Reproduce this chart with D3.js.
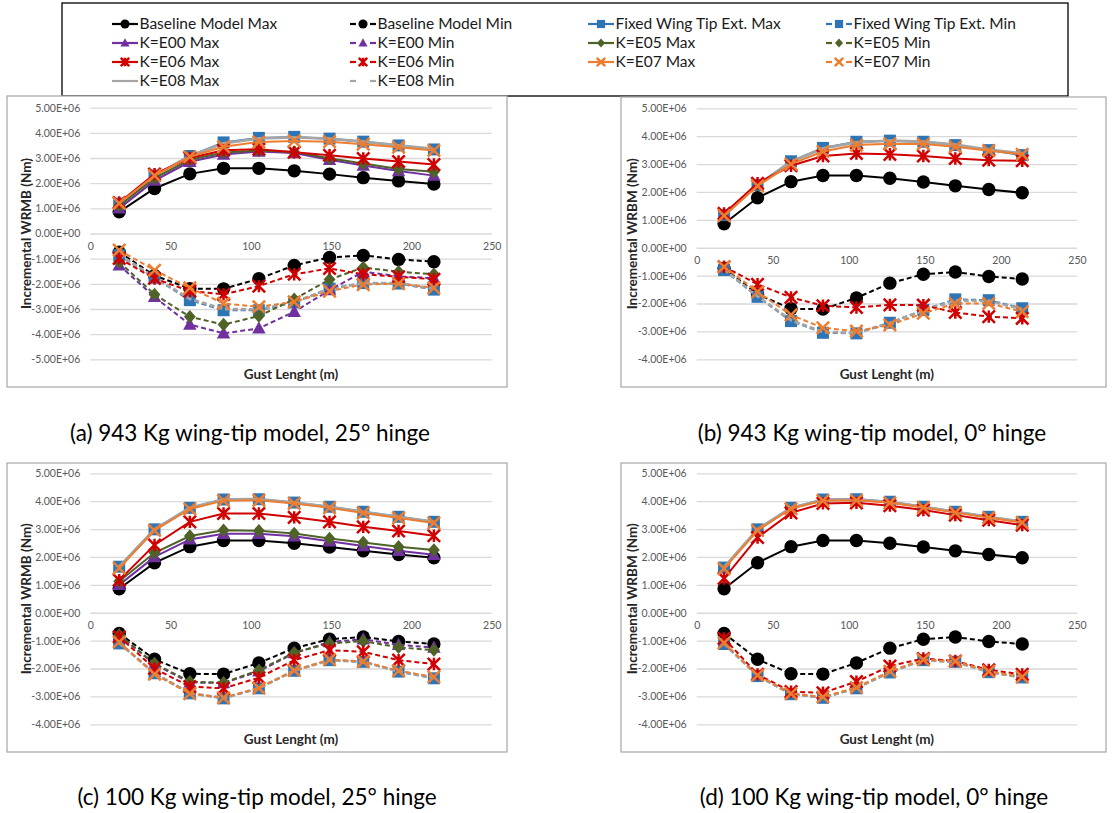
<!DOCTYPE html>
<html>
<head>
<meta charset="utf-8">
<script src="https://cdn.jsdelivr.net/npm/d3@7"></script>
<style>
  body { margin: 0; background: #fff; }
  svg { display: block; }
  text { font-family: Lato, "Open Sans", sans-serif; }
</style>
</head>
<body>
<svg id="fig" width="1113" height="813"></svg>
<script>
// Gust lengths (m) and axis ticks
const gustLength = [18, 40, 62, 83, 105, 127, 149, 170, 192, 214];
const xTicks = [0, 50, 100, 150, 200, 250];
const yTicksWide = [-5, -4, -3, -2, -1, 0, 1, 2, 3, 4, 5];   // x 1e6 Nm
const yTicksNarrow = [-4, -3, -2, -1, 0, 1, 2, 3, 4, 5];      // x 1e6 Nm

// Incremental wing root bending moment, in units of 1e6 Nm
const baselineMax = [0.86, 1.79, 2.37, 2.59, 2.59, 2.49, 2.36, 2.22, 2.09, 1.97];
const baselineMin = [-0.74, -1.67, -2.19, -2.2, -1.8, -1.27, -0.95, -0.87, -1.03, -1.12];

// (a) 943 Kg wing-tip, 25 deg hinge
const aFixedMax = [1.19, 2.3, 3.08, 3.62, 3.8, 3.84, 3.77, 3.65, 3.5, 3.34];
const aFixedMin = [-0.86, -1.76, -2.65, -3.05, -3.05, -2.74, -2.19, -1.97, -1.99, -2.23];
const aE00Max = [1.0, 2.1, 2.85, 3.14, 3.26, 3.2, 2.93, 2.7, 2.48, 2.3];
const aE00Min = [-1.26, -2.52, -3.62, -3.97, -3.77, -3.11, -2.25, -1.52, -1.7, -1.78];
const aE05Max = [1.1, 2.2, 2.93, 3.22, 3.3, 3.24, 2.99, 2.78, 2.56, 2.45];
const aE05Min = [-1.13, -2.42, -3.31, -3.62, -3.28, -2.61, -1.83, -1.35, -1.52, -1.62];
const aE06Max = [1.23, 2.36, 3.0, 3.31, 3.35, 3.23, 3.11, 2.98, 2.86, 2.74];
const aE06Min = [-0.99, -1.79, -2.29, -2.42, -2.09, -1.62, -1.39, -1.62, -1.72, -1.82];
const aE07Max = [1.2, 2.3, 3.05, 3.45, 3.64, 3.68, 3.65, 3.55, 3.43, 3.3];
const aE07Min = [-0.66, -1.46, -2.16, -2.78, -2.91, -2.72, -2.29, -2.03, -1.99, -2.16];
const aE08Max = [1.17, 2.3, 3.08, 3.58, 3.78, 3.82, 3.77, 3.65, 3.5, 3.36];
const aE08Min = [-0.84, -1.74, -2.6, -3.0, -3.02, -2.72, -2.2, -1.97, -1.97, -2.2];

// (b) 943 Kg wing-tip, 0 deg hinge
const bFixedMax = [1.17, 2.25, 3.1, 3.58, 3.8, 3.84, 3.8, 3.68, 3.5, 3.32];
const bFixedMin = [-0.8, -1.76, -2.63, -3.05, -3.07, -2.69, -2.23, -1.85, -1.88, -2.17];
const bE06Max = [1.23, 2.31, 2.94, 3.29, 3.38, 3.35, 3.29, 3.2, 3.14, 3.12];
const bE06Min = [-0.68, -1.31, -1.78, -2.08, -2.14, -2.05, -2.06, -2.32, -2.47, -2.53];
const bE07Max = [1.15, 2.22, 3.0, 3.45, 3.68, 3.73, 3.72, 3.62, 3.48, 3.35];
const bE07Min = [-0.68, -1.58, -2.41, -2.87, -2.99, -2.77, -2.35, -2.0, -2.0, -2.29];
const bE08Max = [1.15, 2.25, 3.08, 3.56, 3.78, 3.84, 3.8, 3.7, 3.52, 3.38];
const bE08Min = [-0.78, -1.74, -2.6, -3.02, -3.05, -2.7, -2.25, -1.9, -1.9, -2.2];

// (c) 100 Kg wing-tip, 25 deg hinge
const cFixedMax = [1.65, 2.99, 3.76, 4.06, 4.07, 3.95, 3.8, 3.62, 3.44, 3.26];
const cFixedMin = [-1.1, -2.17, -2.89, -3.07, -2.71, -2.08, -1.7, -1.76, -2.11, -2.35];
const cE00Max = [1.0, 2.0, 2.63, 2.83, 2.83, 2.74, 2.56, 2.39, 2.22, 2.08];
const cE00Min = [-0.8, -1.85, -2.5, -2.52, -2.1, -1.45, -1.05, -0.95, -1.15, -1.25];
const cE05Max = [1.13, 2.15, 2.75, 2.96, 2.94, 2.84, 2.66, 2.52, 2.37, 2.25];
const cE05Min = [-0.8, -1.82, -2.47, -2.51, -2.06, -1.43, -1.1, -1.02, -1.24, -1.34];
const cE06Max = [1.17, 2.43, 3.26, 3.56, 3.56, 3.42, 3.26, 3.08, 2.93, 2.76];
const cE06Min = [-0.86, -2.0, -2.65, -2.71, -2.33, -1.7, -1.34, -1.4, -1.7, -1.84];
const cE07Max = [1.6, 2.95, 3.72, 4.02, 4.03, 3.92, 3.76, 3.58, 3.4, 3.22];
const cE07Min = [-1.05, -2.2, -2.9, -3.05, -2.7, -2.07, -1.68, -1.75, -2.08, -2.3];
const cE08Max = [1.65, 2.99, 3.76, 4.06, 4.07, 3.95, 3.8, 3.62, 3.44, 3.26];
const cE08Min = [-1.08, -2.17, -2.88, -3.06, -2.7, -2.08, -1.7, -1.76, -2.1, -2.34];

// (d) 100 Kg wing-tip, 0 deg hinge
const dFixedMax = [1.62, 2.99, 3.76, 4.06, 4.07, 3.98, 3.8, 3.62, 3.44, 3.26];
const dFixedMin = [-1.12, -2.27, -2.92, -3.05, -2.71, -2.14, -1.7, -1.76, -2.13, -2.32];
const dE06Max = [1.23, 2.7, 3.58, 3.92, 3.94, 3.84, 3.68, 3.5, 3.32, 3.14];
const dE06Min = [-0.92, -2.21, -2.83, -2.87, -2.47, -1.91, -1.64, -1.73, -2.05, -2.21];
const dE07Max = [1.58, 2.95, 3.73, 4.02, 4.03, 3.94, 3.77, 3.59, 3.41, 3.23];
const dE07Min = [-1.08, -2.24, -2.9, -3.02, -2.68, -2.1, -1.68, -1.74, -2.1, -2.3];
const dE08Max = [1.63, 2.99, 3.76, 4.05, 4.06, 3.97, 3.8, 3.62, 3.44, 3.26];
const dE08Min = [-1.1, -2.25, -2.9, -3.04, -2.7, -2.12, -1.7, -1.76, -2.12, -2.32];

// Series appearance
const seriesStyle = {
  baseMax:  { label: "Baseline Model Max",      color: "#000000", marker: "circle",   dashed: false },
  baseMin:  { label: "Baseline Model Min",      color: "#000000", marker: "circle",   dashed: true },
  fixMax:   { label: "Fixed Wing Tip Ext. Max", color: "#2E75B6", marker: "square",   dashed: false },
  fixMin:   { label: "Fixed Wing Tip Ext. Min", color: "#2E75B6", marker: "square",   dashed: true },
  e00Max:   { label: "K=E00 Max", color: "#7030A0", marker: "triangle", dashed: false },
  e00Min:   { label: "K=E00 Min", color: "#7030A0", marker: "triangle", dashed: true },
  e05Max:   { label: "K=E05 Max", color: "#4F6228", marker: "diamond",  dashed: false },
  e05Min:   { label: "K=E05 Min", color: "#4F6228", marker: "diamond",  dashed: true },
  e06Max:   { label: "K=E06 Max", color: "#D00000", marker: "star",     dashed: false },
  e06Min:   { label: "K=E06 Min", color: "#D00000", marker: "star",     dashed: true },
  e07Max:   { label: "K=E07 Max", color: "#ED7D31", marker: "x",        dashed: false },
  e07Min:   { label: "K=E07 Min", color: "#ED7D31", marker: "x",        dashed: true },
  e08Max:   { label: "K=E08 Max", color: "#A5A5A5", marker: "none",     dashed: false },
  e08Min:   { label: "K=E08 Min", color: "#A5A5A5", marker: "none",     dashed: true }
};
const legendOrder = ["baseMax", "baseMin", "fixMax", "fixMin", "e00Max", "e00Min", "e05Max", "e05Min",
                     "e06Max", "e06Min", "e07Max", "e07Min", "e08Max", "e08Min"];
// painting order inside a plot
const drawOrder = ["baseMax", "baseMin", "fixMax", "fixMin", "e08Max", "e08Min", "e00Max", "e00Min",
                   "e05Max", "e05Min", "e06Max", "e06Min", "e07Max", "e07Min"];

const panels = [
  { caption: "(a) 943 Kg wing-tip model, 25° hinge", yTitle: "Incremental WRMB (Nm)",
    box: [7, 96, 507, 387], plot: [90.3, 491.7, 107.7, 359.3], yTicks: yTicksWide, capX: 250, capY: 441,
    series: { baseMax: baselineMax, baseMin: baselineMin, fixMax: aFixedMax, fixMin: aFixedMin,
      e00Max: aE00Max, e00Min: aE00Min, e05Max: aE05Max, e05Min: aE05Min, e06Max: aE06Max, e06Min: aE06Min,
      e07Max: aE07Max, e07Min: aE07Min, e08Max: aE08Max, e08Min: aE08Min } },
  { caption: "(b) 943 Kg wing-tip model, 0° hinge", yTitle: "Incremental WRBM (Nm)",
    box: [621, 97, 1106, 387], plot: [696.7, 1077, 108.3, 359.3], yTicks: yTicksNarrow, capX: 872, capY: 441,
    series: { baseMax: baselineMax, baseMin: baselineMin, fixMax: bFixedMax, fixMin: bFixedMin,
      e06Max: bE06Max, e06Min: bE06Min, e07Max: bE07Max, e07Min: bE07Min, e08Max: bE08Max, e08Min: bE08Min } },
  { caption: "(c) 100 Kg wing-tip model, 25° hinge", yTitle: "Incremental WRMB (Nm)",
    box: [7, 463, 507, 752], plot: [90.3, 491.7, 473.3, 724.3], yTicks: yTicksNarrow, capX: 257, capY: 805,
    series: { baseMax: baselineMax, baseMin: baselineMin, fixMax: cFixedMax, fixMin: cFixedMin,
      e00Max: cE00Max, e00Min: cE00Min, e05Max: cE05Max, e05Min: cE05Min, e06Max: cE06Max, e06Min: cE06Min,
      e07Max: cE07Max, e07Min: cE07Min, e08Max: cE08Max, e08Min: cE08Min } },
  { caption: "(d) 100 Kg wing-tip model, 0° hinge", yTitle: "Incremental WRBM (Nm)",
    box: [621, 463, 1106, 752], plot: [696.7, 1077, 473.3, 724.3], yTicks: yTicksNarrow, capX: 874, capY: 805,
    series: { baseMax: baselineMax, baseMin: baselineMin, fixMax: dFixedMax, fixMin: dFixedMin,
      e06Max: dE06Max, e06Min: dE06Min, e07Max: dE07Max, e07Min: dE07Min, e08Max: dE08Max, e08Min: dE08Min } }
];

const svg = d3.select("#fig");

// Excel-like scientific label: 5.00E+06
function sci(v) {
  const val = v * 1e6;
  if (val === 0) return "0.00E+00";
  const exp = Math.floor(Math.log10(Math.abs(val)));
  const man = val / Math.pow(10, exp);
  return man.toFixed(2) + "E" + (exp >= 0 ? "+" : "-") + String(Math.abs(exp)).padStart(2, "0");
}

function markerPath(type, s) {
  switch (type) {
    case "square":   return `M${-s},${-s}H${s}V${s}H${-s}Z`;
    case "diamond":  return `M0,${-s * 1.25}L${s * 1.1},0L0,${s * 1.25}L${-s * 1.1},0Z`;
    case "triangle": return `M0,${-s * 1.15}L${s * 1.1},${s * 0.85}L${-s * 1.1},${s * 0.85}Z`;
    case "star":     return `M0,${-s}V${s}M${-s},${-s}L${s},${s}M${-s},${s}L${s},${-s}`;
    case "x":        return `M${-s},${-s}L${s},${s}M${-s},${s}L${s},${-s}`;
    default: return null;
  }
}

function drawMarker(g, type, color, x, y, s) {
  if (type === "none") return;
  if (type === "circle") {
    g.append("circle").attr("cx", x).attr("cy", y).attr("r", s).attr("fill", color);
    return;
  }
  const p = g.append("path").attr("d", markerPath(type, s)).attr("transform", `translate(${x},${y})`);
  if (type === "star" || type === "x") {
    p.attr("fill", "none").attr("stroke", color).attr("stroke-width", 2.5).attr("stroke-linecap", "butt");
  } else {
    p.attr("fill", color);
  }
}

const markerSize = { circle: 6.7, square: 6, diamond: 5.4, triangle: 6.1, star: 6.2, x: 6.2 };

// ---- Legend ----
const legend = svg.append("g");
legend.append("rect").attr("x", 62).attr("y", 3).attr("width", 1006).attr("height", 93)
  .attr("fill", "#fff").attr("stroke", "#000").attr("stroke-width", 1.3);
const legendCols = [112, 350, 588, 826];
const legendRows = [24, 43, 62, 81];
legendOrder.forEach((key, i) => {
  const st = seriesStyle[key];
  const x = legendCols[i % 4], y = legendRows[Math.floor(i / 4)];
  const g = legend.append("g");
  if (st.dashed) {
    g.append("line").attr("x1", x).attr("x2", x + 6).attr("y1", y).attr("y2", y)
      .attr("stroke", st.color).attr("stroke-width", 2.2);
    g.append("line").attr("x1", x + 20).attr("x2", x + 26).attr("y1", y).attr("y2", y)
      .attr("stroke", st.color).attr("stroke-width", 2.2);
  } else {
    g.append("line").attr("x1", x).attr("x2", x + 26).attr("y1", y).attr("y2", y)
      .attr("stroke", st.color).attr("stroke-width", 2.2);
  }
  drawMarker(g, st.marker, st.color, x + 13, y, (markerSize[st.marker] || 0) * 0.68);
  g.append("text").attr("x", x + 27.5).attr("y", y).attr("dy", "0.35em")
    .attr("font-size", 15.5).attr("fill", "#1a1a1a").text(st.label);
});

// ---- Panels ----
panels.forEach(pn => {
  const [bx0, by0, bx1, by1] = pn.box;
  const [px0, px1, py0, py1] = pn.plot;
  const g = svg.append("g");

  g.append("rect").attr("x", bx0).attr("y", by0).attr("width", bx1 - bx0).attr("height", by1 - by0)
    .attr("fill", "#fff").attr("stroke", "#a6a6a6").attr("stroke-width", 1.2);

  const x = d3.scaleLinear().domain([0, 250]).range([px0, px1]);
  const yMin = d3.min(pn.yTicks), yMax = d3.max(pn.yTicks);
  const y = d3.scaleLinear().domain([yMin, yMax]).range([py1, py0]);

  // horizontal gridlines and value labels
  const yAxis = d3.axisLeft(y).tickValues(pn.yTicks).tickFormat(sci)
    .tickSize(-(px1 - px0)).tickPadding(10);
  const ya = g.append("g").attr("transform", `translate(${px0},0)`).call(yAxis);
  ya.select(".domain").remove();
  ya.selectAll(".tick line").attr("stroke", "#d9d9d9").attr("stroke-width", 1.3);
  ya.selectAll(".tick text").attr("font-size", 10.5).attr("fill", "#595959")
    .attr("font-family", "Lato, 'Open Sans', sans-serif");

  // horizontal-axis labels sit along the zero line
  const xAxis = d3.axisBottom(x).tickValues(xTicks).tickSize(0).tickPadding(9);
  const xa = g.append("g").attr("transform", `translate(0,${y(0)})`).call(xAxis);
  xa.select(".domain").remove();
  xa.selectAll(".tick text").attr("font-size", 10.5).attr("fill", "#595959")
    .attr("font-family", "Lato, 'Open Sans', sans-serif");

  // axis titles
  g.append("text").attr("x", (px0 + px1) / 2).attr("y", py1 + 15).attr("dy", "0.35em")
    .attr("text-anchor", "middle").attr("font-size", 13.5).attr("font-weight", "bold")
    .attr("fill", "#262626").text("Gust Lenght (m)");
  g.append("text").attr("transform", `translate(${px0 - 64},${(py0 + py1) / 2}) rotate(-90)`)
    .attr("dy", "0.35em").attr("text-anchor", "middle").attr("font-size", 13.5).attr("font-weight", "bold")
    .attr("fill", "#262626").text(pn.yTitle);

  // data lines and markers
  const line = d3.line().x((d, i) => x(gustLength[i])).y(d => y(d));
  drawOrder.forEach(key => {
    const vals = pn.series[key];
    if (!vals) return;
    const st = seriesStyle[key];
    const sg = g.append("g");
    sg.append("path").attr("d", line(vals)).attr("fill", "none").attr("stroke", st.color)
      .attr("stroke-width", key.startsWith("e08") ? 2.8 : 2)
      .attr("stroke-dasharray", st.dashed ? "5,3" : null);
    vals.forEach((v, i) => drawMarker(sg, st.marker, st.color, x(gustLength[i]), y(v), markerSize[st.marker]));
  });

  // caption
  svg.append("text").attr("x", pn.capX).attr("y", pn.capY).attr("text-anchor", "middle")
    .attr("font-size", 22.5).attr("fill", "#000").text(pn.caption);
});
</script>
</body>
</html>
